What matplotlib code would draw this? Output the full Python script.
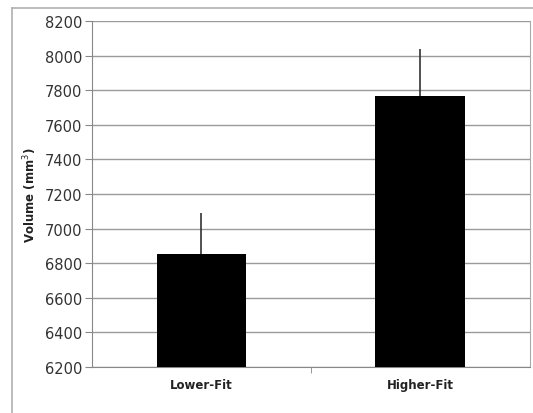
import matplotlib
matplotlib.use('Agg')
import matplotlib.pyplot as plt
from matplotlib.lines import Line2D

# Dados do gráfico
grupos = ['Lower-Fit', 'Higher-Fit']
volumes = [6855, 7765]
erros = [235, 275]
yticks = [6200, 6400, 6600, 6800, 7000, 7200, 7400, 7600, 7800, 8000, 8200]

fig = plt.figure(figsize=(5.33, 4.14), dpi=100)
ax = fig.add_axes([0.1726, 0.111, 0.8214, 0.836])

# Moldura externa (linhas cinzas à esquerda e no topo)
fig.add_artist(Line2D([12/533, 12/533], [0, 1 - 9/414], color='#b0b0b0', lw=1.2, transform=fig.transFigure))
fig.add_artist(Line2D([12/533, 1], [1 - 9/414, 1 - 9/414], color='#b0b0b0', lw=1.2, transform=fig.transFigure))

pos = list(range(len(grupos)))
ax.bar(pos, volumes, width=0.41, color='black', zorder=3)
ax.errorbar(pos, volumes, yerr=[[0, 0], erros], fmt='none', ecolor='#333333',
            elinewidth=1.2, capsize=0, zorder=2)

ax.set_xlim(-0.5, 1.5)
ax.set_ylim(6200, 8200)
ax.set_yticks(yticks)
ax.set_yticklabels([str(v) for v in yticks], fontsize=10.5, color='#333333')
ax.yaxis.grid(True, color='#9a9a9a', lw=1, zorder=0)
ax.set_axisbelow(True)

ax.set_xticks(pos)
ax.set_xticklabels(grupos, fontsize=8.5, fontweight='bold', color='#222222')
ax.tick_params(axis='x', length=0, pad=8)
ax.set_xticks([0.5], minor=True)
ax.tick_params(axis='x', which='minor', length=4, color='#888888')
ax.tick_params(axis='y', length=5, color='#888888', pad=2)

ax.set_ylabel('Volume (mm$^3$)', fontsize=8.5, fontweight='bold', color='#222222', labelpad=4)

for lado in ['left', 'bottom']:
    ax.spines[lado].set_color('#888888')
ax.spines['top'].set_visible(False)
ax.spines['right'].set_color('#aaaaaa')

fig.savefig('out.png', dpi=100)
